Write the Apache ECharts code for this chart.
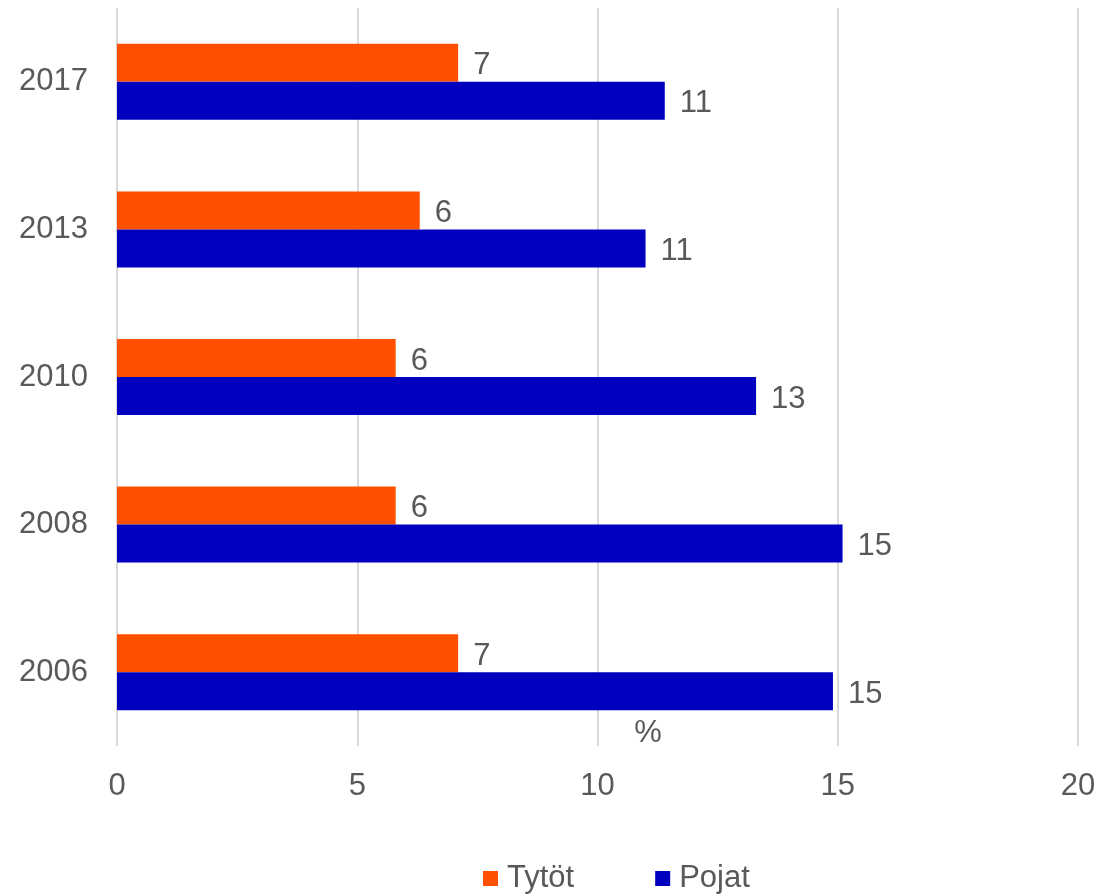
<!DOCTYPE html>
<html><head><meta charset="utf-8">
<script src="https://cdn.jsdelivr.net/npm/echarts@6/dist/echarts.min.js"></script>
<style>html,body{margin:0;padding:0;background:#fff}#c{width:1102px;height:895px}</style>
</head><body><div id="c"></div>
<script>
const years = ['2006','2008','2010','2013','2017'];
const tytot = [7.1, 5.8, 5.8, 6.3, 7.1];
const pojat = [14.9, 15.1, 13.3, 11.0, 11.4];
const xTicks = [0, 5, 10, 15, 20];
const unitLabel = '%';

const FONT = 'Liberation Sans, Arial, sans-serif';
const FS = 31;
const GREY = '#595959';
const chart = echarts.init(document.getElementById('c'));
const lbl = {show:true, position:'right', distance:15, offset:[0,3], color:GREY, fontSize:FS, fontFamily:FONT,
  formatter: p => Math.round(p.value)};
chart.setOption({
  animation:false,
  grid:{left:117, right:24, top:8, bottom:149, containLabel:false},
  xAxis:{type:'value', min:xTicks[0], max:xTicks[xTicks.length-1], interval:5,
    axisLine:{show:false}, axisTick:{show:false},
    splitLine:{lineStyle:{color:'#d9d9d9', width:2}},
    axisLabel:{color:GREY, fontSize:FS, fontFamily:FONT, margin:25}},
  yAxis:{type:'category', data:years,
    axisLine:{show:false}, axisTick:{show:false},
    axisLabel:{color:GREY, fontSize:FS, fontFamily:FONT, margin:29, padding:[4,0,0,0]}},
  legend:{data:['Tytöt','Pojat'], left:478, top:858, itemWidth:15, itemHeight:15, itemGap:81,
    icon:'rect', textStyle:{color:GREY, fontSize:FS, fontFamily:FONT, padding:[0,0,0,4]}},
  graphic:[{type:'text', x:648, y:733, style:{text:unitLabel, fill:GREY, font:FS+'px '+FONT, textAlign:'center', textVerticalAlign:'middle'}}],
  series:[
    {name:'Tytöt', type:'bar', data:tytot, itemStyle:{color:'#FF5000'}, barGap:'0%', barCategoryGap:'48.5%', label:lbl},
    {name:'Pojat', type:'bar', data:pojat, itemStyle:{color:'#0000BE'}, barGap:'0%', barCategoryGap:'48.5%', label:lbl}
  ]
});
</script></body></html>
